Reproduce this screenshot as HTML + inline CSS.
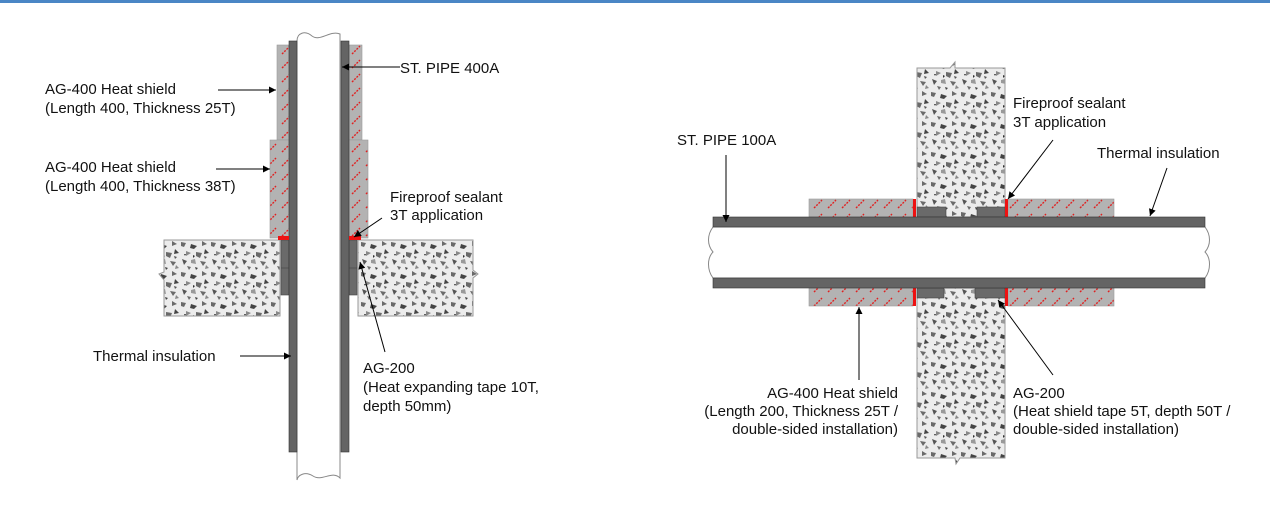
<!DOCTYPE html>
<html><head><meta charset="utf-8"><style>
html,body{margin:0;padding:0;background:#fff;width:1270px;height:515px;overflow:hidden}
svg{display:block}
text{font-family:"Liberation Sans",sans-serif;font-size:15px;fill:#111}
</style></head><body>
<svg width="1270" height="515" viewBox="0 0 1270 515" xmlns="http://www.w3.org/2000/svg">
<defs>
<pattern id="conc" width="30" height="30" patternUnits="userSpaceOnUse">
<rect width="30" height="30" fill="#ececec"/>
<g fill="#6a6a6a">
<path d="M1 2l5 1-2 4-3-1z"/><path d="M11 4l6 2-3 3-4-1z" fill="#444"/><path d="M22 1l5 3-5 2z"/>
<path d="M6 11l5 2-5 3z" fill="#888"/><path d="M16 12l6 1-2 5-4-2z"/><path d="M25 9l4 4-5 1z" fill="#444"/>
<path d="M2 19l5 2-3 4z" fill="#555"/><path d="M11 20l4-1 1 5-5-1z" fill="#999"/><path d="M20 21l6 1-3 4z"/>
<path d="M26 25l3 3-4 1z" fill="#888"/><path d="M7 26l4 1-2 3z"/><path d="M15 27l3 1-2 2z" fill="#444"/>
<path d="M13 15l2 1-2 2z" fill="#333"/><path d="M24 16l3 1-2 2z" fill="#555"/><path d="M4 14l2 0-1 2z" fill="#333"/>
</g>
</pattern>
<pattern id="sh" width="14" height="14" patternUnits="userSpaceOnUse">
<rect width="14" height="14" fill="#b3b3b3"/>
<path d="M2 12l8-8" stroke="#e02020" stroke-width="1.4" stroke-dasharray="2 1.2"/>
</pattern>
<marker id="ar" viewBox="0 0 10 10" refX="10" refY="5" markerWidth="9" markerHeight="7" orient="auto" markerUnits="userSpaceOnUse"><path d="M0 0L10 5L0 10z" fill="#000"/></marker>
</defs>
<rect x="0" y="0" width="1270" height="3" fill="#4a86c5"/>

<!-- LEFT DIAGRAM -->
<path d="M164 240H280V316H164V280l-5-6 5-2z" fill="url(#conc)" stroke="#999"/>
<path d="M358 240H473V270l5 4-5 4V316H358z" fill="url(#conc)" stroke="#999"/>
<path d="M297 41 C297 33 305 30 312 36 C320 42 330 30 340 34 V478 C332 470 322 482 313 476 C305 471 298 475 297 480 Z" fill="#fff" stroke="#888"/>
<rect x="277" y="45" width="12" height="95" fill="url(#sh)" stroke="#999" stroke-width=".6"/>
<rect x="349" y="45" width="13" height="95" fill="url(#sh)" stroke="#999" stroke-width=".6"/>
<rect x="270" y="140" width="19" height="98" fill="url(#sh)" stroke="#999" stroke-width=".6"/>
<rect x="349" y="140" width="19" height="98" fill="url(#sh)" stroke="#999" stroke-width=".6"/>
<rect x="281" y="240" width="8" height="55" fill="#6a6a6a" stroke="#444" stroke-width=".6"/>
<rect x="349" y="240" width="8" height="55" fill="#6a6a6a" stroke="#444" stroke-width=".6"/>
<line x1="281" y1="268" x2="289" y2="268" stroke="#444" stroke-width=".6"/>
<line x1="349" y1="268" x2="357" y2="268" stroke="#444" stroke-width=".6"/>
<rect x="289" y="41" width="8" height="411" fill="#646464" stroke="#333" stroke-width=".6"/>
<rect x="341" y="41" width="8" height="411" fill="#646464" stroke="#333" stroke-width=".6"/>
<rect x="278" y="236" width="11" height="4" fill="#ee1111"/>
<rect x="349" y="236" width="12" height="4" fill="#ee1111"/>

<text x="45" y="94">AG-400 Heat shield</text>
<text x="45" y="113">(Length 400, Thickness 25T)</text>
<line x1="218" y1="90" x2="276" y2="90" stroke="#000" marker-end="url(#ar)"/>
<text x="45" y="172">AG-400 Heat shield</text>
<text x="45" y="191">(Length 400, Thickness 38T)</text>
<line x1="216" y1="169" x2="270" y2="169" stroke="#000" marker-end="url(#ar)"/>
<text x="400" y="73">ST. PIPE 400A</text>
<line x1="400" y1="67" x2="342" y2="67" stroke="#000" marker-end="url(#ar)"/>
<text x="390" y="202">Fireproof sealant</text>
<text x="390" y="220">3T application</text>
<line x1="382" y1="218" x2="354" y2="237" stroke="#000" marker-end="url(#ar)"/>
<text x="93" y="361">Thermal insulation</text>
<line x1="240" y1="356" x2="291" y2="356" stroke="#000" marker-end="url(#ar)"/>
<text x="363" y="373">AG-200</text>
<text x="363" y="392">(Heat expanding tape 10T,</text>
<text x="363" y="411">depth 50mm)</text>
<line x1="385" y1="352" x2="360" y2="262" stroke="#000" marker-end="url(#ar)"/>

<!-- RIGHT DIAGRAM -->
<path d="M917 68H950l5-6 0 6H1005V217H917z" fill="url(#conc)" stroke="#999"/>
<path d="M917 288H1005V458H960l-4 6-1-6H917z" fill="url(#conc)" stroke="#999"/>
<path d="M713 227 C707 235 707 245 713 252 C707 258 707 270 713 278 H1205 C1211 270 1211 258 1205 252 C1211 245 1211 235 1205 227 Z" fill="#fff" stroke="#888"/>
<rect x="809" y="199" width="104" height="18" fill="url(#sh)" stroke="#999" stroke-width=".6"/>
<rect x="1008" y="199" width="106" height="18" fill="url(#sh)" stroke="#999" stroke-width=".6"/>
<rect x="809" y="288" width="104" height="18" fill="url(#sh)" stroke="#999" stroke-width=".6"/>
<rect x="1008" y="288" width="106" height="18" fill="url(#sh)" stroke="#999" stroke-width=".6"/>
<rect x="917" y="207" width="29" height="10" fill="#6a6a6a" stroke="#444" stroke-width=".6"/>
<rect x="977" y="207" width="28" height="10" fill="#6a6a6a" stroke="#444" stroke-width=".6"/>
<rect x="917" y="288" width="27" height="10" fill="#6a6a6a" stroke="#444" stroke-width=".6"/>
<rect x="975" y="288" width="30" height="10" fill="#6a6a6a" stroke="#444" stroke-width=".6"/>
<rect x="913" y="199" width="3" height="18" fill="#ee1111"/>
<rect x="1005" y="199" width="3" height="18" fill="#ee1111"/>
<rect x="913" y="288" width="3" height="18" fill="#ee1111"/>
<rect x="1005" y="288" width="3" height="18" fill="#ee1111"/>
<rect x="713" y="217" width="492" height="10" fill="#646464" stroke="#333" stroke-width=".6"/>
<rect x="713" y="278" width="492" height="10" fill="#646464" stroke="#333" stroke-width=".6"/>

<text x="677" y="145">ST. PIPE 100A</text>
<line x1="726" y1="155" x2="726" y2="222" stroke="#000" marker-end="url(#ar)"/>
<text x="1013" y="108">Fireproof sealant</text>
<text x="1013" y="127">3T application</text>
<line x1="1053" y1="140" x2="1008" y2="199" stroke="#000" marker-end="url(#ar)"/>
<text x="1097" y="158">Thermal insulation</text>
<line x1="1167" y1="168" x2="1150" y2="216" stroke="#000" marker-end="url(#ar)"/>
<text x="898" y="398" text-anchor="end">AG-400 Heat shield</text>
<text x="898" y="416" text-anchor="end">(Length 200, Thickness 25T /</text>
<text x="898" y="434" text-anchor="end">double-sided installation)</text>
<line x1="859" y1="380" x2="859" y2="307" stroke="#000" marker-end="url(#ar)"/>
<text x="1013" y="398">AG-200</text>
<text x="1013" y="416">(Heat shield tape 5T, depth 50T /</text>
<text x="1013" y="434">double-sided installation)</text>
<line x1="1053" y1="375" x2="998" y2="300" stroke="#000" marker-end="url(#ar)"/>
</svg>
</body></html>
